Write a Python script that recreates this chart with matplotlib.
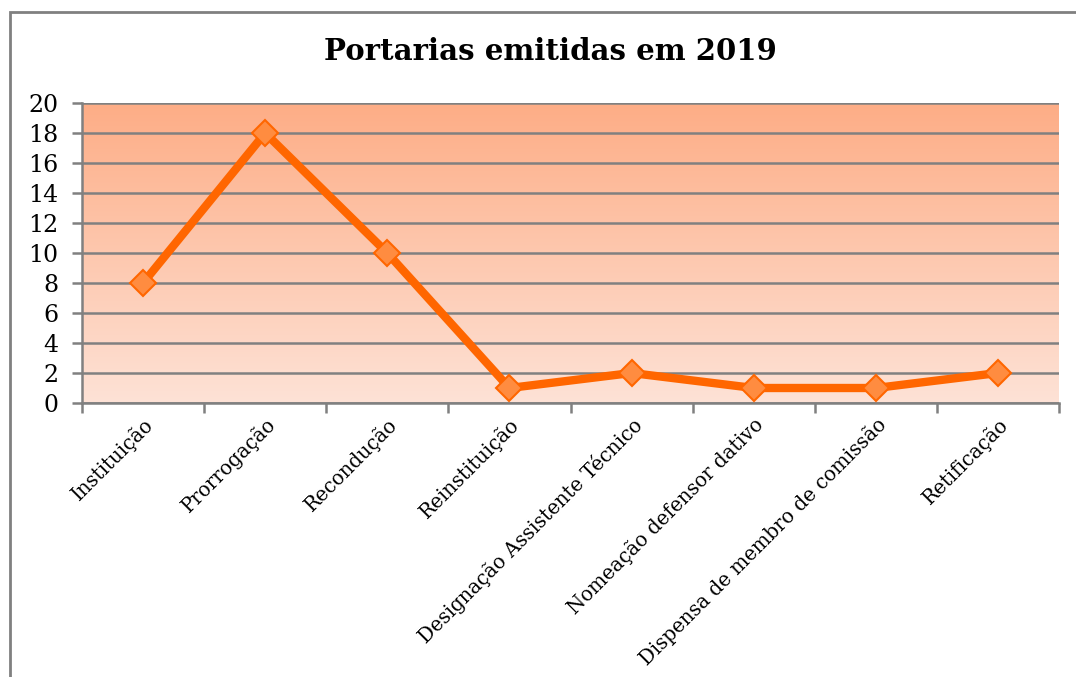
import numpy as np
import matplotlib.pyplot as plt
from matplotlib.colors import LinearSegmentedColormap
from matplotlib.patches import Rectangle

# dados
categorias = ['Instituição', 'Prorrogação', 'Recondução', 'Reinstituição',
              'Designação Assistente Técnico', 'Nomeação defensor dativo',
              'Dispensa de membro de comissão', 'Retificação']
quantidade = [8, 18, 10, 1, 2, 1, 1, 2]
yticks = list(range(0, 21, 2))

plt.rcParams['font.family'] = ['DejaVu Serif']

fig = plt.figure(figsize=(10.76, 6.77), dpi=100)
ax = fig.add_axes([82/1076, 1 - 403/677, (1059-82)/1076, 300/677])

# moldura do gráfico (só esquerda e topo ficam visíveis)
fig.patches.append(Rectangle((10/1076, -0.05), 1.1, 1.05 - 12/677,
                             transform=fig.transFigure, fill=False,
                             edgecolor='#808080', linewidth=2))

x = np.arange(len(categorias))

# fundo em degradê
grad = np.linspace(0, 1, 256).reshape(-1, 1)
cmap = LinearSegmentedColormap.from_list('peach', ['#FEE2D6', '#FDAD86'])
ax.imshow(grad, aspect='auto', cmap=cmap, origin='lower',
          extent=[-0.5, len(categorias) - 0.5, 0, 20], zorder=0)

for y in yticks:
    ax.axhline(y, color='#808080', linewidth=1.8, zorder=1)

ax.plot(x, quantidade, color='#FF6600', linewidth=6, marker='D', markersize=13,
        markerfacecolor='#FF8C40', markeredgecolor='#FF6600', markeredgewidth=1.5,
        zorder=3)

ax.set_xlim(-0.5, len(categorias) - 0.5)
ax.set_ylim(0, 20)
ax.set_yticks(yticks)
ax.set_yticklabels([str(v) for v in yticks], fontsize=17)

ax.set_xticks(np.arange(-0.5, len(categorias), 1))
ax.set_xticklabels([])
ax.set_xticks(x, minor=True)
ax.set_xticklabels(categorias, minor=True, rotation=45, ha='right',
                   rotation_mode='anchor', fontsize=14.2)
ax.tick_params(axis='x', which='minor', length=0, pad=8)
ax.tick_params(axis='both', which='major', length=7, width=1.8, color='#808080')
ax.tick_params(axis='y', pad=10)

for s in ['top', 'right']:
    ax.spines[s].set_visible(False)
for s in ['left', 'bottom']:
    ax.spines[s].set_color('#808080')
    ax.spines[s].set_linewidth(1.8)

fig.text(550/1076, 1 - 52/677, 'Portarias emitidas em 2019', ha='center',
         va='center', fontsize=21, fontweight='bold')

plt.savefig('out.png', dpi=100)
